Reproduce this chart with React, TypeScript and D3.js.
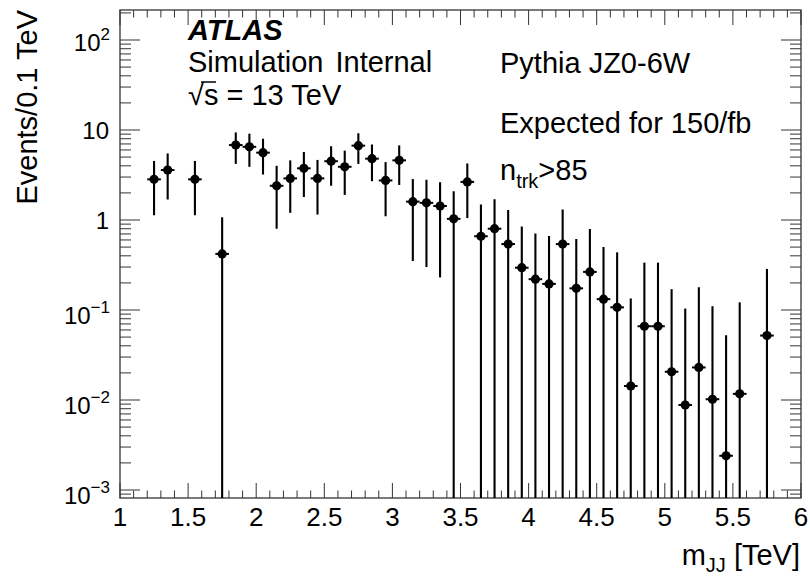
import React from "react";
import * as d3 from "d3";

const binCenters = [1.25,1.35,1.55,1.75,1.85,1.95,2.05,2.15,2.25,2.35,2.45,2.55,2.65,2.75,2.85,2.95,3.05,3.15,3.25,3.35,3.45,3.55,3.65,3.75,3.85,3.95,4.05,4.15,4.25,4.35,4.45,4.55,4.65,4.75,4.85,4.95,5.05,5.15,5.25,5.35,5.45,5.55,5.75];
const eventValues = [2.83,3.59,2.83,0.42,6.8,6.5,5.6,2.4,2.9,3.75,2.9,4.5,3.9,6.7,4.8,2.75,4.6,1.6,1.55,1.43,1.03,2.65,0.66,0.8,0.54,0.295,0.22,0.195,0.54,0.174,0.265,0.132,0.107,0.0143,0.066,0.066,0.0206,0.0088,0.023,0.0102,0.0024,0.0117,0.052];
const eventErrors = [1.7,1.9,1.7,0.65,2.6,2.6,2.4,1.6,1.7,1.95,1.75,2.1,2.0,2.5,2.1,1.65,2.15,1.25,1.25,1.2,1.05,1.6,0.83,0.9,0.75,0.55,0.49,0.47,0.77,0.44,0.53,0.37,0.33,0.12,0.27,0.27,0.15,0.095,0.156,0.1,0.05,0.11,0.234];
const binWidth = 0.1;
const xTickLabels = ["1","1.5","2","2.5","3","3.5","4","4.5","5","5.5","6"];
const yDecades = [-3,-2,-1,0,1,2];

const FONT = "'Liberation Sans', Arial, Helvetica, sans-serif";

export default function App() {
  const L = 120, R = 801, T = 10, B = 498;
  const x = d3.scaleLinear().domain([1, 6]).range([L, R]);
  const y = d3.scaleLog().domain([Math.pow(10, -3 - 8 / 90), Math.pow(10, 2 + 30 / 90)]).range([B, T]);
  const yMin = y.domain()[0];
  const yMax = y.domain()[1];

  const xMajor = xTickLabels.map(Number);
  const xMinor = d3.range(10, 61).map(v => v / 10).filter(v => !xMajor.some(m => Math.abs(m - v) < 1e-9));
  const yMinor: number[] = [];
  for (let e = -4; e <= 2; e++) {
    for (let k = 2; k <= 9; k++) {
      const v = k * Math.pow(10, e);
      if (v > yMin && v < yMax) yMinor.push(v);
    }
  }

  const tickColor = "#333";

  const yLabel = (e: number) => {
    const ty = y(Math.pow(10, e));
    if (e === 0 || e === 1) {
      return (
        <text key={"yl" + e} x={109} y={ty + 9} fontSize={24} textAnchor="end" fontFamily={FONT}>
          {e === 0 ? "1" : "10"}
        </text>
      );
    }
    const base = e < 0 ? ty + 14 : ty + 11;
    return (
      <text key={"yl" + e} x={110} y={base} fontSize={24} textAnchor="end" fontFamily={FONT}>
        10<tspan fontSize={17} dy={-11}>{e < 0 ? "−" + Math.abs(e) : String(e)}</tspan>
      </text>
    );
  };

  return (
    <svg width={810} height={584} style={{ position: "fixed", left: 0, top: 0, background: "#fff" }}>
      <rect x={0} y={0} width={810} height={584} fill="#fff" />
      <defs>
        <clipPath id="plot">
          <rect x={L} y={T} width={R - L} height={B - T} />
        </clipPath>
      </defs>

      {xMajor.map(v => (
        <g key={"xM" + v}>
          <line x1={x(v)} x2={x(v)} y1={B} y2={B - 15} stroke={tickColor} strokeWidth={1} />
          <line x1={x(v)} x2={x(v)} y1={T} y2={T + 15} stroke={tickColor} strokeWidth={1} />
        </g>
      ))}
      {xMinor.map(v => (
        <g key={"xm" + v}>
          <line x1={x(v)} x2={x(v)} y1={B} y2={B - 7.5} stroke={tickColor} strokeWidth={1} />
          <line x1={x(v)} x2={x(v)} y1={T} y2={T + 7.5} stroke={tickColor} strokeWidth={1} />
        </g>
      ))}
      {yDecades.map(e => (
        <g key={"yM" + e}>
          <line x1={L} x2={L + 20} y1={y(Math.pow(10, e))} y2={y(Math.pow(10, e))} stroke={tickColor} strokeWidth={1} />
          <line x1={R} x2={R - 20} y1={y(Math.pow(10, e))} y2={y(Math.pow(10, e))} stroke={tickColor} strokeWidth={1} />
        </g>
      ))}
      {yMinor.map(v => (
        <g key={"ym" + v}>
          <line x1={L} x2={L + 11} y1={y(v)} y2={y(v)} stroke={tickColor} strokeWidth={1} />
          <line x1={R} x2={R - 11} y1={y(v)} y2={y(v)} stroke={tickColor} strokeWidth={1} />
        </g>
      ))}

      <rect x={L} y={T} width={R - L} height={B - T} fill="none" stroke={tickColor} strokeWidth={1.3} />

      {xTickLabels.map(t => (
        <text key={"xl" + t} x={x(Number(t))} y={526} fontSize={26} textAnchor="middle" fontFamily={FONT}>
          {t}
        </text>
      ))}
      {yDecades.map(yLabel)}

      <g clipPath="url(#plot)">
        {binCenters.map((c, i) => {
          const v = eventValues[i];
          const err = eventErrors[i];
          const lo = v - err > yMin ? y(v - err) : B + 5;
          const hi = y(Math.min(v + err, yMax));
          return (
            <g key={"pt" + i}>
              <line x1={x(c)} x2={x(c)} y1={lo} y2={hi} stroke="#000" strokeWidth={2.1} />
              <line x1={x(c - binWidth / 2)} x2={x(c + binWidth / 2)} y1={y(v)} y2={y(v)} stroke="#000" strokeWidth={2} />
              <circle cx={x(c)} cy={y(v)} r={4.6} fill="#000" />
            </g>
          );
        })}
      </g>

      <text transform={`translate(37, ${T}) rotate(-90)`} fontSize={29} textAnchor="end" fontFamily={FONT}>
        Events/0.1 TeV
      </text>
      <text x={800} y={565} fontSize={29} textAnchor="end" fontFamily={FONT}>
        m<tspan fontSize={20} dy={7}>JJ</tspan><tspan dy={-7}> [TeV]</tspan>
      </text>

      <text x={188} y={40} fontSize={29} fontWeight="bold" fontStyle="italic" fontFamily={FONT}>ATLAS</text>
      <text x={188} y={72} fontSize={29} fontFamily={FONT} wordSpacing={4}>Simulation Internal</text>
      <text x={188} y={105} fontSize={29} fontFamily={FONT}>√s = 13 TeV</text>
      <line x1={201} x2={216} y1={82} y2={82} stroke="#000" strokeWidth={1.5} />
      <text x={500} y={73} fontSize={29} fontFamily={FONT}>Pythia JZ0-6W</text>
      <text x={500} y={133} fontSize={29} fontFamily={FONT}>Expected for 150/fb</text>
      <text x={500} y={180} fontSize={29} fontFamily={FONT}>
        n<tspan fontSize={20} dy={8}>trk</tspan><tspan dy={-8}>&gt;85</tspan>
      </text>
    </svg>
  );
}
